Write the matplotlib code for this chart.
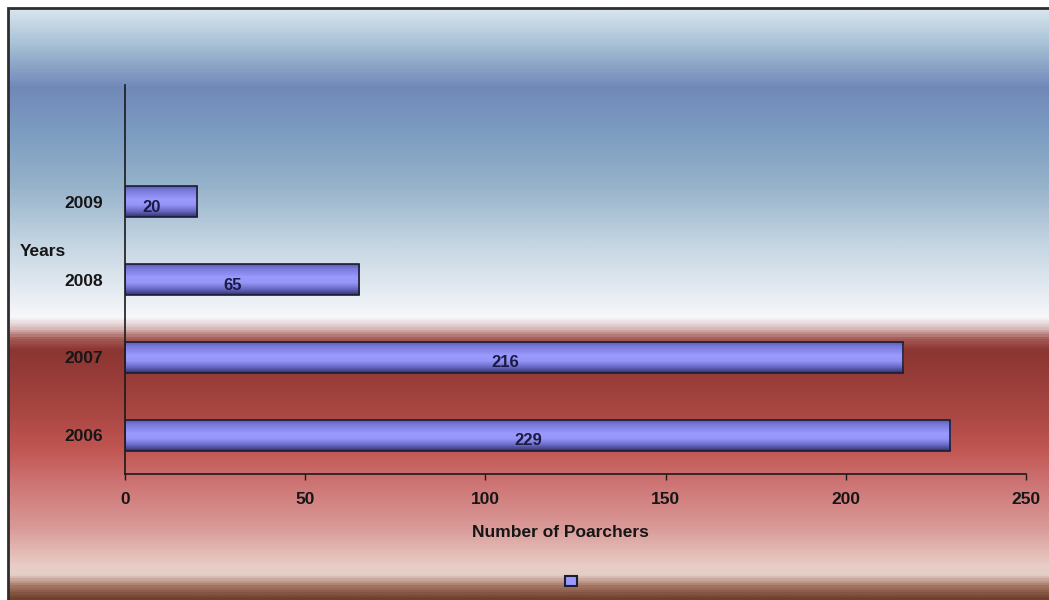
import numpy as np
import matplotlib
matplotlib.use("Agg")
import matplotlib.pyplot as plt
from matplotlib.colors import LinearSegmentedColormap
from matplotlib.patches import Patch, Rectangle

# Poacher counts per year
years = ["2006", "2007", "2008", "2009"]
poachers = [229, 216, 65, 20]
x_ticks = [0, 50, 100, 150, 200, 250]

plt.rcParams["font.family"] = ["Liberation Sans", "DejaVu Sans"]
plt.rcParams["font.weight"] = "bold"

W, H = 1049, 600
fig = plt.figure(figsize=(W / 100, H / 100), dpi=100, facecolor="white")

# Banded background: blue sky fading to white, then red fading to brown
bg_stops = [
    (0.000, "#d6e4ee"), (0.055, "#a9c2d6"), (0.130, "#7189b9"),
    (0.210, "#7d9dc1"), (0.300, "#97b3cb"), (0.400, "#c6d6e3"),
    (0.500, "#eef2f6"), (0.522, "#f8f8fa"), (0.540, "#dcc0c0"),
    (0.558, "#a55c58"), (0.578, "#8b3531"), (0.680, "#a84642"),
    (0.745, "#c05551"), (0.800, "#cd7272"), (0.880, "#d99a98"),
    (0.945, "#e9cdc6"), (0.960, "#e4cfc7"), (0.980, "#a3735f"),
    (1.000, "#6e4230"),
]
bg_cmap = LinearSegmentedColormap.from_list("bg", bg_stops)
bg_ax = fig.add_axes([9 / W, 0, 1 - 9 / W, 1 - 9 / H], zorder=-10)
grad = np.linspace(0, 1, 600).reshape(-1, 1)
bg_ax.imshow(grad, aspect="auto", cmap=bg_cmap, extent=(0, 1, 0, 1), origin="upper")
bg_ax.set_axis_off()
fig.add_artist(Rectangle((8 / W, -0.01), 1.0, 1 - 8 / H + 0.01, transform=fig.transFigure,
                         fill=False, edgecolor="#2e2e2e", linewidth=2.0, zorder=-5))

ax = fig.add_axes([125 / W, 1 - 474 / H, (1026 - 125) / W, (474 - 85) / H])
ax.patch.set_alpha(0)

pos = np.arange(len(years))
bar_h = 0.4
bars = ax.barh(pos, poachers, height=bar_h, color="none", edgecolor="#1c1c34", linewidth=1.2, zorder=3)

# Shaded fill for each bar
bar_stops = [(0.0, "#5454a0"), (0.15, "#7878da"), (0.45, "#9a9aff"),
             (0.62, "#9595f8"), (0.82, "#6868c4"), (1.0, "#32326a")]
bar_cmap = LinearSegmentedColormap.from_list("bar", bar_stops)
bgrad = np.linspace(0, 1, 64).reshape(-1, 1)
for rect, val, p in zip(bars, poachers, pos):
    im = ax.imshow(bgrad, aspect="auto", cmap=bar_cmap, origin="upper",
                   extent=(0, val, p - bar_h / 2, p + bar_h / 2), zorder=2)
    im.set_clip_path(rect)
    ax.annotate(str(val), xy=(val / 2, p), xytext=(-6.5, -4), textcoords="offset points",
                ha="center", va="center", fontsize=12, fontweight="bold", color="#1a1a44", zorder=4)

ax.set_xlim(0, 250)
ax.set_ylim(-0.5, 4.5)
ax.set_xticks(x_ticks)
ax.set_xticklabels([str(t) for t in x_ticks])
ax.set_yticks(pos)
ax.set_yticklabels(years)
for s in ["top", "right"]:
    ax.spines[s].set_visible(False)
for s in ["left", "bottom"]:
    ax.spines[s].set_color("#1a1a1a")
    ax.spines[s].set_linewidth(1.2)
ax.tick_params(axis="x", length=4, width=1, color="#1a1a1a", pad=9, labelsize=12.5, labelcolor="#161616")
ax.tick_params(axis="y", length=0, pad=16, labelsize=12.5, labelcolor="#161616")
for lbl in ax.get_xticklabels() + ax.get_yticklabels():
    lbl.set_fontweight("bold")
ax.set_xlabel("Number of Poarchers", fontsize=12.5, fontweight="bold", color="#161616", labelpad=11)
ax.xaxis.set_label_coords((560 - 125) / (1026 - 125), -0.131)

fig.text(20 / W, 1 - 251 / H, "Years", ha="left", va="center", fontsize=12.5,
         fontweight="bold", color="#161616")

fig.legend(handles=[Patch(facecolor="#9a9aff", edgecolor="#1c1c34", linewidth=1.5)], labels=[""],
           loc="center", bbox_to_anchor=(571 / W, 1 - 582 / H), frameon=False,
           handlelength=0.8, handleheight=0.7, handletextpad=0, borderpad=0)

fig.savefig("out.png", dpi=100, facecolor="white")
